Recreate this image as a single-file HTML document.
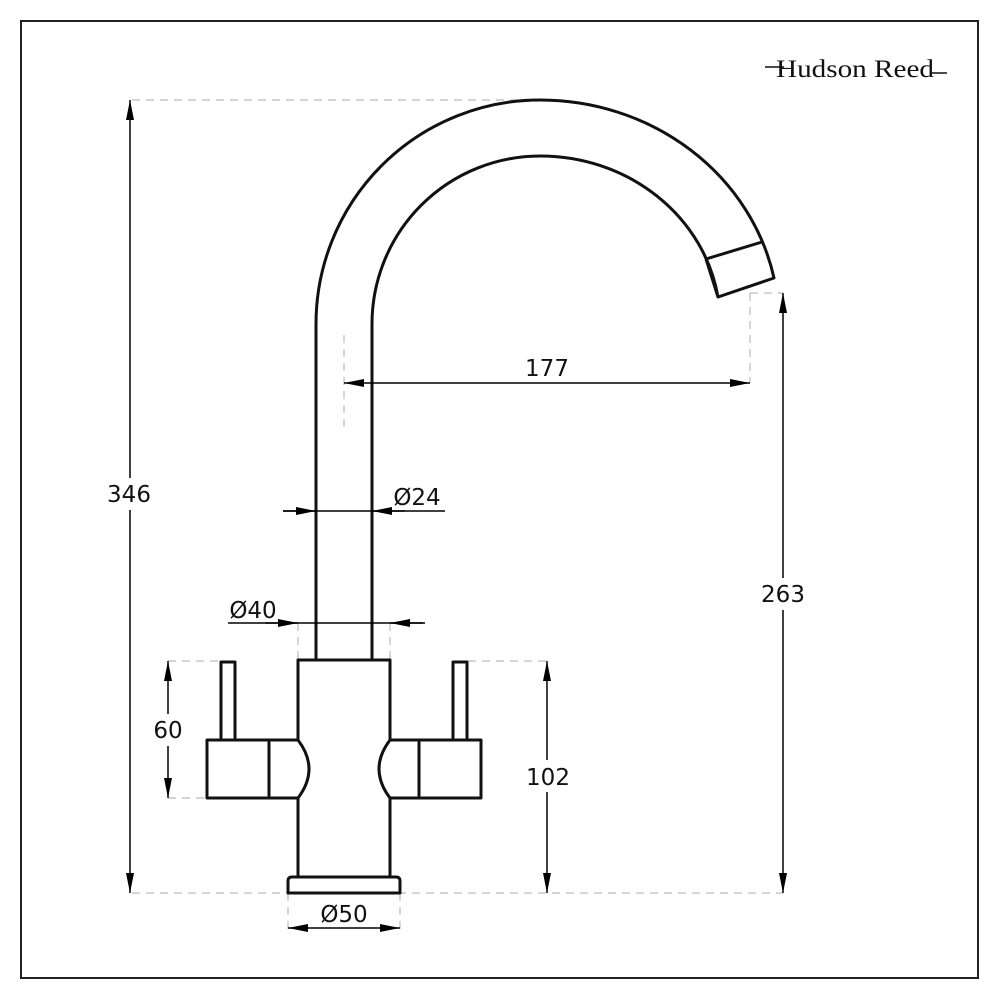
<!DOCTYPE html>
<html><head><style>
html,body{margin:0;padding:0;background:#fff;}
svg{display:block;}
text{font-family:"DejaVu Sans","Liberation Sans",sans-serif;font-size:23px;fill:#111;}
</style></head><body>
<svg width="1000" height="1000" viewBox="0 0 1000 1000" xmlns="http://www.w3.org/2000/svg">
<defs>
<marker id="a" viewBox="0 0 20 8" refX="20" refY="4" markerWidth="20" markerHeight="8" markerUnits="userSpaceOnUse" orient="auto-start-reverse">
<path d="M0,0 L20,4 L0,8 Z" fill="#000"/></marker>
</defs>
<rect x="21" y="21" width="957" height="957" fill="none" stroke="#222" stroke-width="2"/>
<text x="776" y="77" textLength="158" lengthAdjust="spacingAndGlyphs" style="font-family:'Liberation Serif',serif;font-size:25px">Hudson Reed</text>
<line x1="765" y1="67" x2="784" y2="67" stroke="#111" stroke-width="1.5"/>
<line x1="930" y1="73" x2="947" y2="73" stroke="#111" stroke-width="1.5"/>

<g stroke="#bbb" stroke-width="1.2" stroke-dasharray="8,6" fill="none">
<line x1="132" y1="100" x2="530" y2="100"/>
<line x1="132" y1="893" x2="783" y2="893"/>
<line x1="750" y1="293" x2="783" y2="293"/>
<line x1="750" y1="293" x2="750" y2="383"/>
<line x1="344" y1="335" x2="344" y2="432"/>
<line x1="298" y1="623" x2="298" y2="660"/>
<line x1="390" y1="623" x2="390" y2="660"/>
<line x1="168" y1="661" x2="220" y2="661"/>
<line x1="168" y1="798" x2="207" y2="798"/>
<line x1="468" y1="661" x2="547" y2="661"/>
<line x1="288" y1="893" x2="288" y2="932"/>
<line x1="400" y1="893" x2="400" y2="932"/>
</g>

<g stroke="#111" stroke-width="3" fill="none" stroke-linejoin="round">
<path d="M316,660 L316,324 A224,224 0 0 1 540,100 A239,224 0 0 1 774,278 L718,297 L706,259 M372,660 L372,324 A168,168 0 0 1 540,156 A180,168 0 0 1 718,297"/>
<line x1="706" y1="259" x2="762" y2="242"/>
<path d="M298,740 L298,660 L390,660 L390,740 M298,798 L298,877 M390,798 L390,877"/>
<path d="M288,893 L288,881 Q288,877 292,877 L396,877 Q400,877 400,881 L400,893 Z"/>
<path d="M298,740 L207,740 L207,798 L298,798 Q320,769 298,740 M269,740 L269,798"/>
<path d="M390,740 L481,740 L481,798 L390,798 Q368,769 390,740 M419,740 L419,798"/>
<path d="M221,740 L221,662 L235,662 L235,740"/>
<path d="M453,740 L453,662 L467,662 L467,740"/>
</g>

<g stroke="#000" stroke-width="1.5" fill="none">
<line x1="130" y1="893" x2="130" y2="100" marker-start="url(#a)" marker-end="url(#a)"/>
<line x1="783" y1="893" x2="783" y2="293" marker-start="url(#a)" marker-end="url(#a)"/>
<line x1="344" y1="383" x2="750" y2="383" marker-start="url(#a)" marker-end="url(#a)"/>
<line x1="283" y1="511" x2="445" y2="511"/>
<line x1="283" y1="511" x2="316" y2="511" marker-end="url(#a)"/>
<line x1="405" y1="511" x2="372" y2="511" marker-end="url(#a)"/>
<line x1="228" y1="623" x2="425" y2="623"/>
<line x1="265" y1="623" x2="298" y2="623" marker-end="url(#a)"/>
<line x1="423" y1="623" x2="390" y2="623" marker-end="url(#a)"/>
<line x1="168" y1="798" x2="168" y2="661" marker-start="url(#a)" marker-end="url(#a)"/>
<line x1="547" y1="893" x2="547" y2="661" marker-start="url(#a)" marker-end="url(#a)"/>
<line x1="288" y1="928" x2="400" y2="928" marker-start="url(#a)" marker-end="url(#a)"/>
</g>
<rect x="100" y="478" width="60" height="32" fill="#fff"/>
<text x="129" y="502" text-anchor="middle">346</text>
<rect x="753" y="578" width="60" height="32" fill="#fff"/>
<text x="783" y="602" text-anchor="middle">263</text>
<text x="547" y="376" text-anchor="middle">177</text>
<text x="417" y="505" text-anchor="middle">Ø24</text>
<text x="253" y="618" text-anchor="middle">Ø40</text>
<rect x="148" y="714" width="40" height="32" fill="#fff"/>
<text x="168" y="738" text-anchor="middle">60</text>
<rect x="520" y="760" width="56" height="32" fill="#fff"/>
<text x="548" y="785" text-anchor="middle">102</text>
<text x="344" y="922" text-anchor="middle">Ø50</text>
</svg>
</body></html>
